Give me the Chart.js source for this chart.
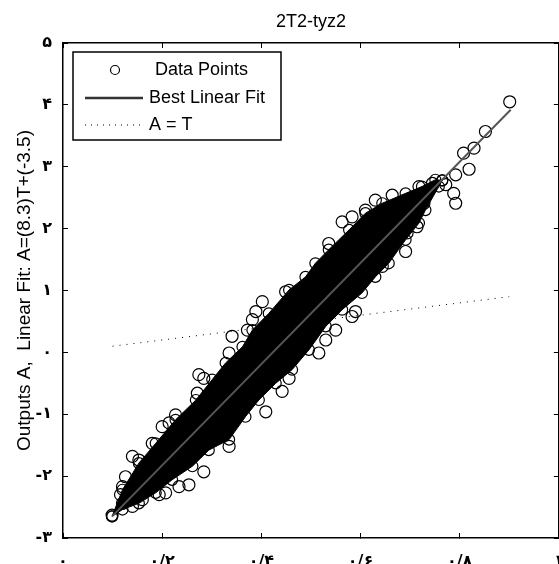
<!DOCTYPE html>
<html>
<head>
<meta charset="utf-8">
<script src="https://cdn.jsdelivr.net/npm/chart.js@4.4.1/dist/chart.umd.min.js"></script>
<style>
  html, body { margin: 0; padding: 0; background: #fff; overflow: hidden; }
  #wrap { position: relative; width: 566px; height: 564px; }
</style>
</head>
<body>
<div id="wrap"><canvas id="regChart"></canvas></div>
<script>
// tick labels (Persian digits, as in the original figure)
const xTickLabels = ['۰', '۰/۲', '۰/۴', '۰/۶', '۰/۸', '۱'];
const yTickLabels = ['-۳', '-۲', '-۱', '۰', '۱', '۲', '۳', '۴', '۵'];

const chartTitle = '2T2-tyz2';
const yTitle = 'Outputs A,  Linear Fit: A=(8.3)T+(-3.5)';

// best linear fit end points
const fitT = [0.099, 0.903];
const fitA = [-2.65, 3.92];

// A = T reference line
const identT = [0.1, 0.9];
const identA = [0.1, 0.9];

// edges of the dense (solid black) part of the cloud
const upperT = [0.099, 0.120, 0.153, 0.187, 0.227, 0.268, 0.301, 0.328, 0.362, 0.382, 0.415, 0.456, 0.489, 0.509, 0.536, 0.577, 0.610, 0.644, 0.691, 0.724, 0.751, 0.765];
const upperA = [-2.65, -2.22, -1.79, -1.47, -1.09, -0.77, -0.44, -0.17, 0.09, 0.36, 0.63, 1.01, 1.22, 1.44, 1.66, 1.98, 2.25, 2.41, 2.57, 2.68, 2.79, 2.78];
const lowerT = [0.099, 0.120, 0.153, 0.187, 0.220, 0.261, 0.294, 0.335, 0.368, 0.395, 0.429, 0.462, 0.496, 0.530, 0.563, 0.603, 0.630, 0.657, 0.691, 0.718, 0.731, 0.758, 0.765];
const lowerA = [-2.65, -2.54, -2.44, -2.27, -2.06, -1.84, -1.58, -1.41, -1.04, -0.77, -0.50, -0.28, 0.04, 0.42, 0.69, 0.96, 1.22, 1.44, 1.82, 2.09, 2.30, 2.68, 2.78];

// individual data points visible outside the dense band
const pointT = [0.901, 0.852, 0.829, 0.808, 0.819, 0.792, 0.788, 0.792, 0.772, 0.745, 0.718, 0.728,
  0.664, 0.630, 0.610, 0.583, 0.563, 0.536, 0.449, 0.402, 0.389, 0.382, 0.372, 0.341, 0.335,
  0.274, 0.284, 0.271, 0.227, 0.214, 0.200, 0.180, 0.140, 0.153, 0.126, 0.120, 0.116, 0.099,
  0.691, 0.694, 0.714, 0.644, 0.590, 0.583, 0.550, 0.530, 0.516, 0.456, 0.442, 0.409, 0.335,
  0.284, 0.254, 0.234, 0.207, 0.194, 0.160, 0.140, 0.120];
const pointA = [4.05, 3.57, 3.30, 3.22, 2.96, 2.87, 2.57, 2.41, 2.71, 2.73, 2.68, 2.41,
  2.54, 2.46, 2.30, 2.19, 2.11, 1.76, 0.98, 0.82, 0.66, 0.53, 0.36, 0.26, -0.01,
  -0.36, -0.42, -0.66, -1.01, -1.14, -1.20, -1.47, -1.68, -1.74, -2.01, -2.17, -2.30, -2.63,
  1.63, 1.93, 2.03, 1.39, 0.66, 0.58, 0.36, 0.20, -0.01, -0.42, -0.63, -0.96, -1.52,
  -1.93, -2.14, -2.17, -2.27, -2.30, -2.38, -2.49, -2.44];

function toXY(xs, ys) {
    return xs.map((x, i) => ({ x: x, y: ys[i] }));
}

const textFont = 'Liberation Sans, Arial, sans-serif';
const digitFont = 'DejaVu Sans, sans-serif';

// MATLAB style legend box drawn inside the axes
const boxLegend = {
    id: 'boxLegend',
    afterDatasetsDraw(chart) {
        const ctx = chart.ctx;
        const a = chart.chartArea;
        const x0 = a.left + 10, y0 = a.top + 9;
        const ds = chart.data.datasets;
        ctx.save();
        ctx.fillStyle = '#fff';
        ctx.fillRect(x0, y0, 208, 88);
        ctx.strokeStyle = '#000';
        ctx.lineWidth = 1.5;
        ctx.strokeRect(x0, y0, 208, 88);

        ctx.font = '18px ' + textFont;
        ctx.fillStyle = '#000';
        ctx.textBaseline = 'middle';
        ctx.textAlign = 'left';

        // circle marker
        ctx.lineWidth = 1.2;
        ctx.beginPath();
        ctx.arc(x0 + 42, y0 + 18, 4.5, 0, Math.PI * 2);
        ctx.stroke();
        ctx.fillText(ds[0].label, x0 + 82, y0 + 18);

        // solid fit line
        ctx.strokeStyle = '#333';
        ctx.lineWidth = 2.5;
        ctx.beginPath();
        ctx.moveTo(x0 + 12, y0 + 46);
        ctx.lineTo(x0 + 70, y0 + 46);
        ctx.stroke();
        ctx.fillText(ds[1].label, x0 + 76, y0 + 46);

        // dotted A = T
        ctx.strokeStyle = '#000';
        ctx.lineWidth = 1;
        ctx.setLineDash([1, 5]);
        ctx.beginPath();
        ctx.moveTo(x0 + 12, y0 + 73);
        ctx.lineTo(x0 + 70, y0 + 73);
        ctx.stroke();
        ctx.setLineDash([]);
        ctx.fillText(ds[2].label, x0 + 76, y0 + 73);
        ctx.restore();
    }
};

const gridOpts = { drawOnChartArea: false, drawTicks: true, tickLength: -5, color: '#000', lineWidth: 1 };
const borderOpts = { display: true, color: '#000', width: 1.5 };

// fixed axis sizes, no extra room for overhanging end labels
function fixSize(w, h) {
    return s => {
        if (w !== null) s.width = w;
        if (h !== null) s.height = h;
        s.paddingLeft = 0;
        s.paddingRight = 0;
        s.paddingTop = 0;
        s.paddingBottom = 0;
    };
}

const ctx = document.getElementById('regChart').getContext('2d');
const myChart = new Chart(ctx, {
    type: 'scatter',
    data: {
        datasets: [
            {
                label: 'Data Points',
                data: toXY(pointT, pointA),
                pointRadius: 6,
                pointBorderWidth: 1.2,
                pointBorderColor: '#000',
                pointBackgroundColor: 'rgba(0,0,0,0)',
                order: 2
            },
            {
                label: 'Best Linear Fit',
                data: toXY(fitT, fitA),
                showLine: true,
                borderColor: '#555',
                borderWidth: 2,
                pointRadius: 0,
                order: 0
            },
            {
                label: 'A = T',
                data: toXY(identT, identA),
                showLine: true,
                borderColor: '#000',
                borderWidth: 1,
                borderDash: [1, 6],
                pointRadius: 0,
                order: 5
            },
            {
                label: 'band upper',
                data: toXY(upperT, upperA),
                showLine: true,
                fill: '+1',
                backgroundColor: '#000',
                borderColor: '#000',
                borderWidth: 1,
                pointRadius: 5.5,
                pointBorderWidth: 1.2,
                pointBorderColor: '#000',
                pointBackgroundColor: 'rgba(0,0,0,0)',
                order: 3
            },
            {
                label: 'band lower',
                data: toXY(lowerT, lowerA),
                showLine: true,
                fill: false,
                borderColor: '#000',
                borderWidth: 1,
                pointRadius: 5.5,
                pointBorderWidth: 1.2,
                pointBorderColor: '#000',
                pointBackgroundColor: 'rgba(0,0,0,0)',
                order: 3
            }
        ]
    },
    options: {
        responsive: true,
        maintainAspectRatio: false,
        animation: false,
        layout: { padding: { right: 2 } },
        plugins: {
            legend: { display: false },
            tooltip: { enabled: false },
            title: {
                display: true,
                text: chartTitle,
                fullSize: false,
                color: '#000',
                font: { family: textFont, size: 18, weight: 'normal' },
                padding: { top: 11, bottom: 10.4 }
            }
        },
        scales: {
            x: {
                type: 'linear',
                position: 'bottom',
                min: 0,
                max: 1,
                ticks: {
                    stepSize: 0.2,
                    padding: 19,
                    maxRotation: 0,
                    autoSkip: false,
                    color: '#000',
                    font: { family: digitFont, size: 16, weight: 'bold' },
                    callback: v => xTickLabels[Math.round(v * 5)]
                },
                grid: gridOpts,
                border: borderOpts,
                afterFit: fixSize(null, 26)
            },
            x2: {
                type: 'linear',
                position: 'top',
                min: 0,
                max: 1,
                ticks: { stepSize: 0.2, display: false },
                grid: gridOpts,
                border: borderOpts,
                afterFit: fixSize(null, 0)
            },
            y: {
                type: 'linear',
                position: 'left',
                min: -3,
                max: 5,
                ticks: {
                    stepSize: 1,
                    padding: 16,
                    color: '#000',
                    font: { family: digitFont, size: 16, weight: 'bold' },
                    callback: v => yTickLabels[Math.round(v) + 3]
                },
                title: {
                    display: true,
                    text: yTitle,
                    color: '#000',
                    font: { family: textFont, size: 19 },
                    padding: { top: 13, bottom: 0 }
                },
                grid: gridOpts,
                border: borderOpts,
                afterFit: fixSize(63, null)
            },
            y2: {
                type: 'linear',
                position: 'right',
                min: -3,
                max: 5,
                ticks: { stepSize: 1, display: false },
                grid: gridOpts,
                border: borderOpts,
                afterFit: fixSize(0, null)
            }
        }
    },
    plugins: [boxLegend]
});
</script>
</body>
</html>
